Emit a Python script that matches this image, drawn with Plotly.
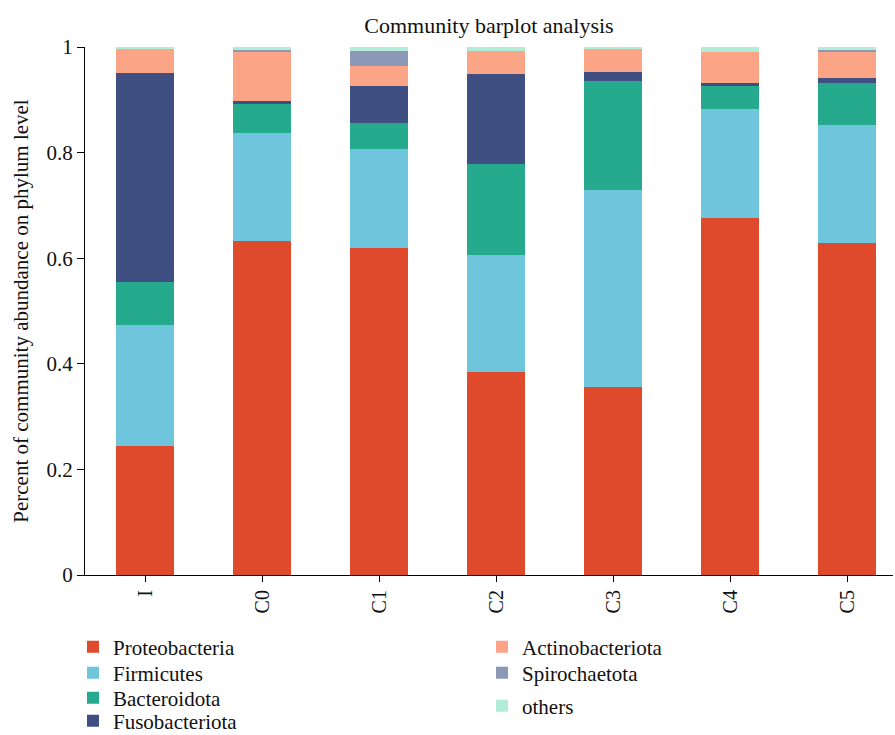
import plotly.graph_objects as go

samples = ["I", "C0", "C1", "C2", "C3", "C4", "C5"]

proteobacteria = [0.244, 0.633, 0.619, 0.384, 0.356, 0.676, 0.629]
firmicutes = [0.229, 0.204, 0.188, 0.222, 0.373, 0.207, 0.223]
bacteroidota = [0.082, 0.055, 0.049, 0.172, 0.207, 0.043, 0.080]
fusobacteriota = [0.396, 0.006, 0.070, 0.171, 0.017, 0.006, 0.009]
actinobacteriota = [0.045, 0.094, 0.038, 0.043, 0.043, 0.059, 0.051]
spirochaetota = [0.000, 0.002, 0.028, 0.000, 0.000, 0.000, 0.002]
others = [0.004, 0.006, 0.008, 0.008, 0.004, 0.009, 0.006]

phyla = ["Proteobacteria", "Firmicutes", "Bacteroidota", "Fusobacteriota",
         "Actinobacteriota", "Spirochaetota", "others"]
values = [proteobacteria, firmicutes, bacteroidota, fusobacteriota,
          actinobacteriota, spirochaetota, others]
colors = ["#E04A2C", "#6EC5DC", "#25AA8E", "#404F82",
          "#FBA586", "#8D98B7", "#B3EBD9"]

FONT = "Liberation Serif, Times New Roman, serif"
W, H = 895, 735
L, R, T, B = 85, 2, 47, 160
plot_w = W - L - R
plot_h = H - T - B


def px_x(px):
    return (px - L) / plot_w


def px_y(py):
    return (H - B - py) / plot_h


# each legend entry gets its own legend box so the two columns line up
legend_spots = [(73, 647), (73, 673), (73, 698), (73, 721),
                (482, 647), (482, 673), (482, 706)]

fig = go.Figure()
layout_legends = {}
for i, (name, vals, color) in enumerate(zip(phyla, values, colors)):
    key = "legend" if i == 0 else f"legend{i + 1}"
    fig.add_trace(go.Bar(
        x=samples, y=vals, name=name,
        marker=dict(color=color, line=dict(width=0)),
        width=0.5, legend=key, showlegend=True,
    ))
    lx, ly = legend_spots[i]
    layout_legends[key] = dict(
        x=px_x(lx), y=px_y(ly),
        xanchor="left", yanchor="middle",
        orientation="v",
        font=dict(family=FONT, size=21, color="#111"),
        bgcolor="rgba(0,0,0,0)",
        borderwidth=0,
        visible=True,
    )

fig.update_layout(
    width=W, height=H,
    barmode="stack",
    showlegend=True,
    plot_bgcolor="white",
    paper_bgcolor="white",
    margin=dict(l=L, r=R, t=T, b=B, autoexpand=False),
    font=dict(family=FONT, size=20, color="#111"),
    title=dict(
        text="Community barplot analysis",
        x=0.5, xref="paper", xanchor="center",
        y=1 - 25 / H, yanchor="middle",
        font=dict(family=FONT, size=22, color="#111"),
    ),
    xaxis=dict(
        range=[-0.513, 6.393],
        showline=True, linecolor="#000", linewidth=1.2,
        ticks="outside", ticklen=6, tickcolor="#000",
        tickangle=-90,
        tickfont=dict(family=FONT, size=20, color="#111"),
        showgrid=False, zeroline=False, automargin=False,
    ),
    yaxis=dict(
        range=[0, 1],
        tick0=0, dtick=0.2,
        showline=True, linecolor="#000", linewidth=1.2,
        ticks="outside", ticklen=7, tickcolor="#000",
        tickfont=dict(family=FONT, size=21, color="#111"),
        showgrid=False, zeroline=False, automargin=False,
        title=dict(text="Percent of community abundance on phylum level",
                   font=dict(family=FONT, size=21, color="#111"),
                   standoff=12),
    ),
    **layout_legends,
)

fig.write_html("out.html")
